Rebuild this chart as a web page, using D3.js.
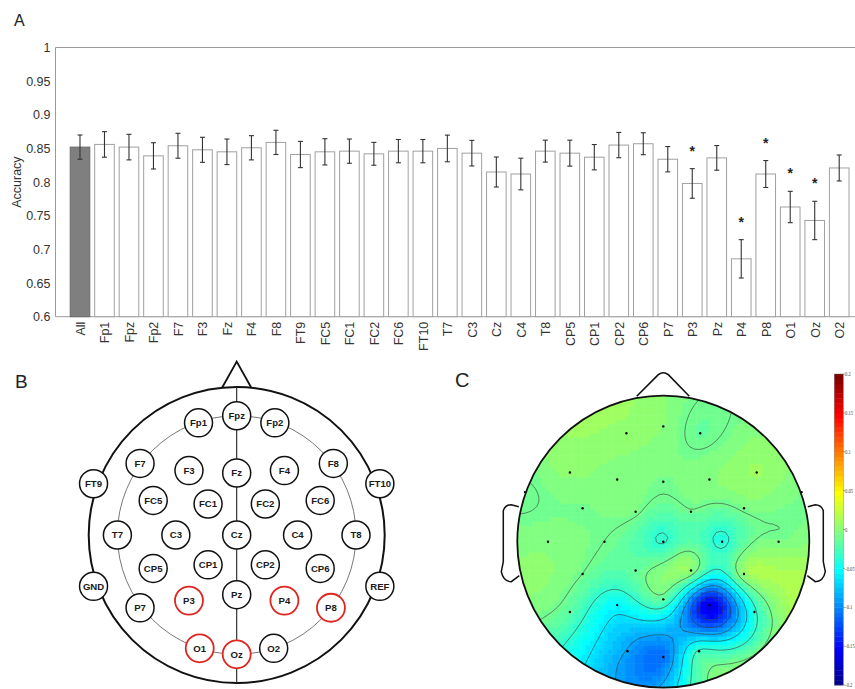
<!DOCTYPE html>
<html><head><meta charset="utf-8">
<script src="https://cdn.jsdelivr.net/npm/d3@7"></script>
<style>body{margin:0;background:#fff}svg{display:block}</style>
</head><body>
<svg id="chart" width="855" height="689"></svg>
<script>
// ---------- Data ----------
const categories = ["All","Fp1","Fpz","Fp2","F7","F3","Fz","F4","F8","FT9","FC5","FC1","FC2","FC6","FT10","T7","C3","Cz","C4","T8","CP5","CP1","CP2","CP6","P7","P3","Pz","P4","P8","O1","Oz","O2"];
const accuracy = [0.852,0.856,0.852,0.839,0.854,0.848,0.845,0.851,0.859,0.841,0.845,0.846,0.842,0.846,0.846,0.850,0.843,0.815,0.812,0.846,0.843,0.837,0.855,0.857,0.834,0.798,0.836,0.686,0.812,0.763,0.743,0.821];
const errorSize = [0.018,0.019,0.019,0.0195,0.0185,0.0186,0.019,0.018,0.018,0.0195,0.0195,0.018,0.017,0.0173,0.0173,0.0198,0.019,0.0223,0.0235,0.0163,0.0193,0.0188,0.0188,0.0163,0.0188,0.022,0.0183,0.0285,0.020,0.0233,0.0285,0.0193];
const significant = ["P3","P4","P8","O1","Oz"];
const yTicks = [0.6,0.65,0.7,0.75,0.8,0.85,0.9,0.95,1];

// electrode montage (unit = T7 radius, y pointing to the nose)
const electrodeNames = ["Fp1","Fpz","Fp2","F7","F3","Fz","F4","F8","FT9","FT10","FC5","FC1","FC2","FC6","T7","C3","Cz","C4","T8","CP5","CP1","CP2","CP6","P7","P3","Pz","P4","P8","O1","Oz","O2"];
const electrodeX = [-0.32,0,0.32,-0.81,-0.40,0,0.40,0.81,-1.20,1.20,-0.70,-0.24,0.24,0.70,-1,-0.51,0,0.51,1,-0.70,-0.24,0.24,0.70,-0.81,-0.40,0,0.40,0.79,-0.31,0,0.31];
const electrodeY = [0.94,1.0,0.94,0.60,0.54,0.52,0.54,0.60,0.43,0.43,0.29,0.26,0.26,0.29,0,0,0,0,0,-0.28,-0.25,-0.25,-0.28,-0.61,-0.55,-0.50,-0.55,-0.61,-0.95,-1.0,-0.95];
const referenceNames = ["GND","REF"];
const referenceX = [-1.20,1.20];
const referenceY = [-0.43,-0.43];

const colorbarTicks = [0.2,0.15,0.1,0.05,0,-0.05,-0.1,-0.15,-0.2];

// ---------- Setup ----------
const svg = d3.select("#chart");
const FONT = "'Liberation Sans', Arial, Helvetica, sans-serif";

// ---------- Panel A ----------
const xA = d3.scaleLinear().domain([0,33]).range([55.5,863.7]);
const yA = d3.scaleLinear().domain([0.6,1]).range([316.7,47.5]);
const gA = svg.append("g");

const boxColor = "#9a9a9a";
gA.append("line").attr("x1",xA(0)).attr("x2",xA(0)).attr("y1",yA(1)).attr("y2",yA(0.6)).attr("stroke",boxColor);
gA.append("line").attr("x1",xA(0)).attr("x2",xA(33)).attr("y1",yA(1)).attr("y2",yA(1)).attr("stroke",boxColor);
gA.append("line").attr("x1",xA(0)).attr("x2",xA(33)).attr("y1",yA(0.6)).attr("y2",yA(0.6)).attr("stroke",boxColor);

const yAxis = gA.append("g").attr("transform",`translate(${xA(0)},0)`)
  .call(d3.axisLeft(yA).tickValues(yTicks).tickSize(0).tickPadding(5).tickFormat(d => String(+d.toFixed(2))));
yAxis.select(".domain").remove();
yAxis.selectAll("text").attr("font-family",FONT).attr("font-size",12.5).attr("fill","#333");

const xAxis = gA.append("g").attr("transform",`translate(0,${yA(0.6)})`)
  .call(d3.axisBottom(xA).tickValues(d3.range(1,categories.length+1)).tickSize(0).tickFormat(i => categories[i-1]));
xAxis.select(".domain").remove();
xAxis.selectAll("text").attr("font-family",FONT).attr("font-size",12.5).attr("fill","#333")
  .attr("transform","rotate(-90)").attr("text-anchor","end").attr("x",-5).attr("y",0).attr("dy","0.35em");

gA.append("text").attr("transform",`translate(20.5,${(yA(0.6)+yA(1))/2}) rotate(-90)`)
  .attr("text-anchor","middle").attr("font-family",FONT).attr("font-size",12.5).attr("fill","#333").text("Accuracy");

const bw = xA(0.8)-xA(0);
gA.selectAll("rect.bar").data(categories).join("rect").attr("class","bar")
  .attr("x",(d,i)=>xA(i+1)-bw/2).attr("width",bw)
  .attr("y",(d,i)=>yA(accuracy[i])).attr("height",(d,i)=>yA(0.6)-yA(accuracy[i]))
  .attr("fill",(d,i)=> i===0 ? "#7f7f7f" : "#fff")
  .attr("stroke",(d,i)=> i===0 ? "#6a6a6a" : "#a0a0a0").attr("stroke-width",1);

const eb = gA.append("g").attr("stroke","#333").attr("stroke-width",1.1);
categories.forEach((c,i)=>{
  const x = xA(i+1), y1 = yA(accuracy[i]+errorSize[i]), y2 = yA(accuracy[i]-errorSize[i]);
  eb.append("line").attr("x1",x).attr("x2",x).attr("y1",y1).attr("y2",y2);
  eb.append("line").attr("x1",x-2.5).attr("x2",x+2.5).attr("y1",y1).attr("y2",y1);
  eb.append("line").attr("x1",x-2.5).attr("x2",x+2.5).attr("y1",y2).attr("y2",y2);
});
categories.forEach((c,i)=>{
  if (significant.includes(c)) {
    gA.append("text").attr("x",xA(i+1)).attr("y",yA(accuracy[i]+errorSize[i])-13)
      .attr("text-anchor","middle").attr("font-family",FONT).attr("font-size",14).attr("font-weight","bold").attr("fill","#222").text("*");
  }
});

svg.append("text").attr("x",14).attr("y",26).attr("font-family",FONT).attr("font-size",16).attr("fill","#222").text("A");

// ---------- Panel B ----------
const bCx = 236.7, bCy = 535, bUnit = 119.3;
const xB = d3.scaleLinear().domain([-1,1]).range([bCx-bUnit,bCx+bUnit]);
const yB = d3.scaleLinear().domain([-1,1]).range([bCy+bUnit,bCy-bUnit]);
const gB = svg.append("g");
const outerR = 148;
gB.append("path").attr("d",`M${bCx-14.5},${bCy-outerR+0.5} L${bCx},${bCy-outerR-25.5} L${bCx+14.5},${bCy-outerR+0.5}`)
  .attr("fill","none").attr("stroke","#111").attr("stroke-width",1.8).attr("stroke-linejoin","miter");
gB.append("circle").attr("cx",bCx).attr("cy",bCy).attr("r",outerR).attr("fill","none").attr("stroke","#111").attr("stroke-width",2);
gB.append("circle").attr("cx",bCx).attr("cy",bCy).attr("r",bUnit).attr("fill","none").attr("stroke","#555").attr("stroke-width",0.8);
gB.append("line").attr("x1",bCx).attr("x2",bCx).attr("y1",bCy-outerR).attr("y2",bCy+outerR).attr("stroke","#222").attr("stroke-width",1.1);

const allB = electrodeNames.map((n,i)=>({name:n,x:electrodeX[i],y:electrodeY[i]}))
  .concat(referenceNames.map((n,i)=>({name:n,x:referenceX[i],y:referenceY[i]})));
const eg = gB.selectAll("g.el").data(allB).join("g").attr("class","el")
  .attr("transform",d=>`translate(${xB(d.x)},${yB(d.y)})`);
eg.append("circle").attr("r",14).attr("fill","#fff")
  .attr("stroke",d=> significant.includes(d.name) ? "#e0251f" : "#111")
  .attr("stroke-width",d=> significant.includes(d.name) ? 1.8 : 1.5);
eg.append("text").attr("text-anchor","middle").attr("dy","0.36em")
  .attr("font-family",FONT).attr("font-size",9.6).attr("font-weight","bold").attr("fill","#1a1a1a").text(d=>d.name);

svg.append("text").attr("x",15).attr("y",388).attr("font-family",FONT).attr("font-size",19).attr("fill","#222").text("B");

// ---------- Panel C ----------
const cCx = 663.3, cCy = 541.7, headR = 146;
const pScale = 2*headR;               // plot units: head radius = 0.5
const elecScale = 115.3/pScale;       // montage unit -> plot units
const pts = electrodeNames.map((n,i)=>({name:n, x:electrodeX[i]*elecScale, y:electrodeY[i]*elecScale,
  v: accuracy[categories.indexOf(n)] - accuracy[0]}));

// biharmonic spline (griddata 'v4')
function green(r){ return r>0 ? r*r*(Math.log(r)-1) : 0; }
const nP = pts.length;
const A = pts.map(p => pts.map(q => green(Math.hypot(p.x-q.x,p.y-q.y))));
const bvec = pts.map(p=>p.v);
function solve(M, b){
  const n=b.length, a=M.map((r,i)=>r.concat([b[i]]));
  for(let c=0;c<n;c++){
    let piv=c; for(let r=c+1;r<n;r++) if(Math.abs(a[r][c])>Math.abs(a[piv][c])) piv=r;
    [a[c],a[piv]]=[a[piv],a[c]];
    for(let r=0;r<n;r++){ if(r===c) continue; const f=a[r][c]/a[c][c]; for(let k=c;k<=n;k++) a[r][k]-=f*a[c][k]; }
  }
  return a.map((r,i)=>r[n]/r[i]);
}
const w = solve(A,bvec);
function interp(x,y){ let s=0; for(let k=0;k<nP;k++) s+=w[k]*green(Math.hypot(x-pts[k].x,y-pts[k].y)); return s; }

const G0 = 67, pad = 4, N = G0+2*pad, delta = 1/(G0-1);
const grid = new Array(N*N);
let zmin=Infinity, zmax=-Infinity;
for(let r=0;r<N;r++) for(let j=0;j<N;j++){
  const x = -0.5+(j-pad)*delta, y = 0.5-(r-pad)*delta;
  const v = interp(x,y); grid[r*N+j]=v;
  if (Math.hypot(x,y)<=0.5){ zmin=Math.min(zmin,v); zmax=Math.max(zmax,v); }
}
const cmin=-0.2, cmax=0.2;
function jetColor(k){
  const row=k+1;
  const u=i=> i<=16 ? i/16 : (i<=31 ? 1 : (48-i)/16);
  let r=0,g=0,b=0;
  if(row>=9 && row<=55) g=u(row-8);
  if(row>=25) r=u(row-24);
  if(row<=39) b=u(row+8);
  return d3.rgb(Math.round(r*255),Math.round(g*255),Math.round(b*255)).formatHex();
}
function colorOf(v){ let k=Math.floor((v-cmin)/(cmax-cmin)*64); k=Math.max(0,Math.min(63,k)); return jetColor(k); }

const defs = svg.append("defs");
defs.append("clipPath").attr("id","headClip").append("circle").attr("cx",cCx).attr("cy",cCy).attr("r",headR);
const gC = svg.append("g");
const mapG = gC.append("g").attr("clip-path","url(#headClip)");
const cell = delta*pScale;
for(let r=0;r<N;r++) for(let j=0;j<N;j++){
  const x = -0.5+(j-pad)*delta, y = 0.5-(r-pad)*delta;
  if (Math.hypot(x,y) > 0.5+1.5*delta) continue;
  mapG.append("rect").attr("x",cCx+x*pScale-cell/2-0.25).attr("y",cCy-y*pScale-cell/2-0.25)
    .attr("width",cell+0.5).attr("height",cell+0.5).attr("fill",colorOf(grid[r*N+j]));
}
const levels = d3.range(1,7).map(k=>zmin+k*(zmax-zmin)/7);
const contours = d3.contours().size([N,N]).thresholds(levels)(grid);
const proj = d3.geoIdentity().scale(cell).translate([cCx+(-0.5-(pad+0.5)*delta)*pScale, cCy+(-0.5-(pad+0.5)*delta)*pScale]);
mapG.selectAll("path.ct").data(contours).join("path").attr("class","ct")
  .attr("d",d3.geoPath(proj)).attr("fill","none").attr("stroke","#3a3a3a").attr("stroke-width",0.7).attr("stroke-opacity",0.85);

// electrode dots
gC.selectAll("circle.dot").data(pts).join("circle").attr("class","dot")
  .attr("cx",d=>cCx+d.x*pScale).attr("cy",d=>cCy-d.y*pScale).attr("r",1.2).attr("fill","#000");

// head, nose, ears
gC.append("circle").attr("cx",cCx).attr("cy",cCy).attr("r",headR).attr("fill","none").attr("stroke","#111").attr("stroke-width",1.8);
gC.append("path").attr("d",`M${cCx-26.6},${cCy-headR+0.5} L${cCx-5},${cCy-headR-21} Q${cCx},${cCy-headR-25} ${cCx+5},${cCy-headR-21} L${cCx+26},${cCy-headR+0.5}`)
  .attr("fill","none").attr("stroke","#111").attr("stroke-width",1.6);
function earPath(s){
  const X = dx => cCx + s*dx;
  return `M${X(-144.5)},${cCy-35} L${X(-152)},${cCy-37} Q${X(-158)},${cCy-37} ${X(-160)},${cCy-31} L${X(-160)},${cCy+20} L${X(-162)},${cCy+30} Q${X(-160)},${cCy+40} ${X(-152)},${cCy+40} L${X(-144)},${cCy+34}`;
}
gC.append("path").attr("d",earPath(1)).attr("fill","none").attr("stroke","#111").attr("stroke-width",1.5);
gC.append("path").attr("d",earPath(-1)).attr("fill","none").attr("stroke","#111").attr("stroke-width",1.5);

// colorbar
const yCb = d3.scaleLinear().domain([cmin,cmax]).range([685,374]);
const cbX = 834.3, cbW = 9;
const cbG = svg.append("g");
cbG.selectAll("rect").data(d3.range(64)).join("rect")
  .attr("x",cbX).attr("width",cbW)
  .attr("y",k=>yCb(cmin+(k+1)*(cmax-cmin)/64)).attr("height",k=>yCb(cmin+k*(cmax-cmin)/64)-yCb(cmin+(k+1)*(cmax-cmin)/64)+0.4)
  .attr("fill",k=>jetColor(k));
cbG.append("rect").attr("x",cbX).attr("y",yCb(cmax)).attr("width",cbW).attr("height",yCb(cmin)-yCb(cmax))
  .attr("fill","none").attr("stroke","#666").attr("stroke-width",0.4);
colorbarTicks.forEach(t=>{
  cbG.append("line").attr("x1",cbX+cbW).attr("x2",cbX+cbW+1.5).attr("y1",yCb(t)).attr("y2",yCb(t)).attr("stroke","#444").attr("stroke-width",0.6);
  const lbl = String(t);
  cbG.append("text").attr("transform",`translate(${cbX+cbW+1.8},${yCb(t)}) scale(0.7,1)`).attr("dy","0.33em")
    .attr("font-family","'Liberation Serif','Times New Roman',serif").attr("font-size",6.6).attr("fill","#444").text(lbl);
});

svg.append("text").attr("x",455).attr("y",387).attr("font-family",FONT).attr("font-size",20).attr("fill","#222").text("C");
</script>
</body></html>
